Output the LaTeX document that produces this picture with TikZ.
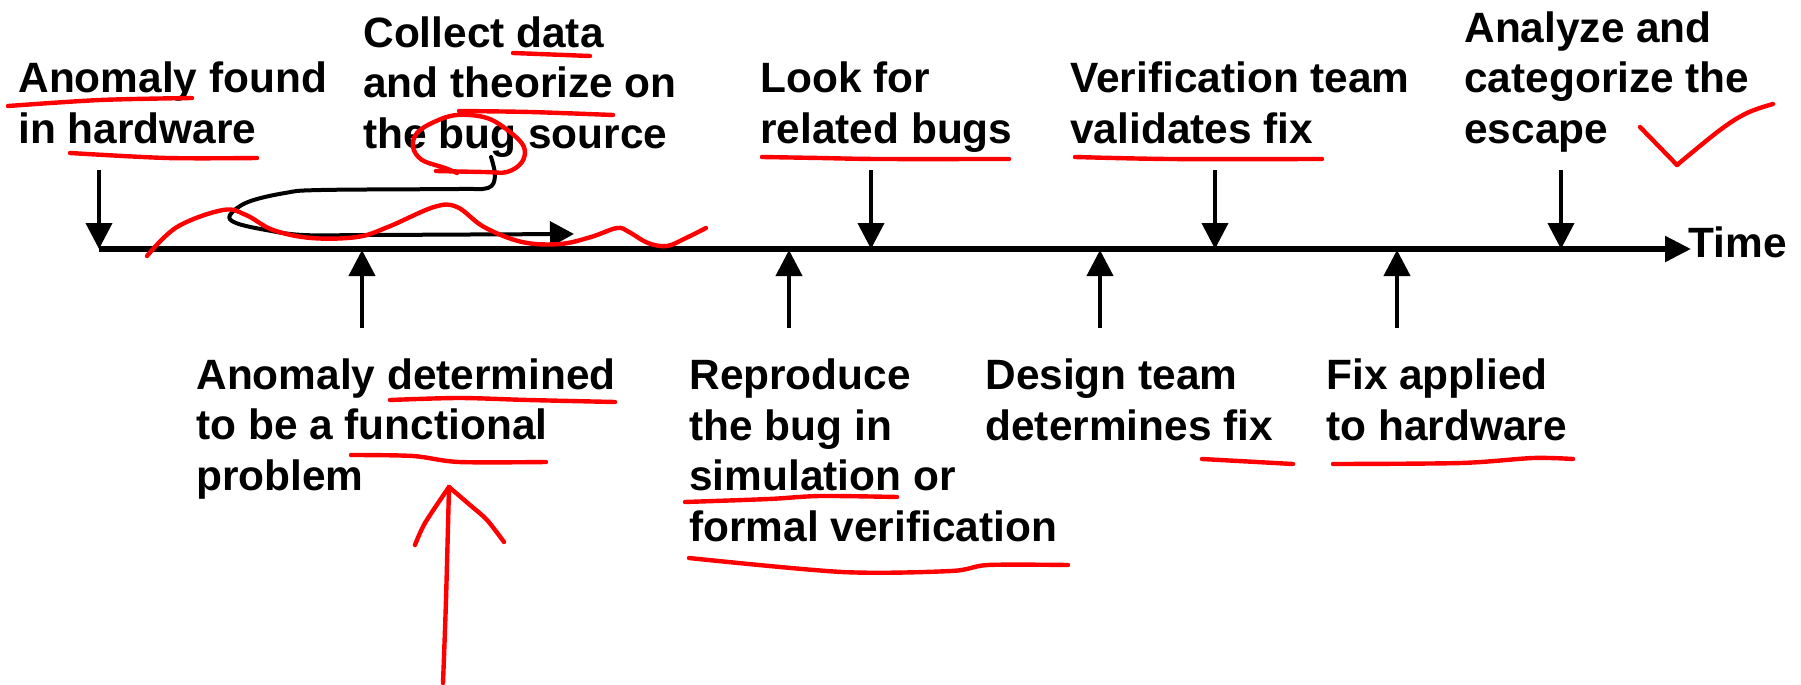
\documentclass[tikz,border=0pt]{standalone}
\usepackage{fontspec}
\setmainfont{Liberation Sans}
\usetikzlibrary{arrows.meta}
\begin{document}
\begin{tikzpicture}[x=0.5pt,y=-0.5pt,
  % multi-line labels are anchored at the baseline of their last line
  lbl/.style={anchor=base west, inner sep=0pt, align=left,
    font=\fontsize{21.2}{25.2}\selectfont\bfseries},
  tick/.style={line width=2pt, -{Triangle[length=13pt,width=13pt]}},
  axis/.style={line width=2.7pt, -{Triangle[length=13pt,width=12.5pt]}},
  pen/.style={red, line width=2.2pt, line cap=round, line join=round},
  ink/.style={black, line width=2pt, line cap=round, line join=round}]
\useasboundingbox (0,0) rectangle (1801,685);

% time axis
\coordinate (t0) at (99,249);
\coordinate (t1) at (1691,249);
\draw[axis] (t0) -- (t1);
\node[lbl] (time) at (1688,257) {Time};

% events above the axis
\node[lbl] (found)   at (18,143)   {Anomaly found\\in hardware};
\node[lbl] (collect) at (363,148)  {Collect data\\and theorize on\\the bug source};
\node[lbl] (look)    at (760,143)  {Look for\\related bugs};
\node[lbl] (valid)   at (1070,143) {Verification team\\validates fix};
\node[lbl] (analyze) at (1464,143) {Analyze and\\categorize the\\escape};

% events below the axis
\node[lbl] (funct)   at (196,490)  {Anomaly determined\\to be a functional\\problem};
\node[lbl] (repro)   at (689,541)  {Reproduce\\the bug in\\simulation or\\formal verification};
\node[lbl] (design)  at (985,440)  {Design team\\determines fix};
\node[lbl] (apply)   at (1326,440) {Fix applied\\to hardware};

% markers pointing down onto the axis
\foreach \n/\x in {a/99, b/871, c/1215, d/1561} {
  \coordinate (dn\n) at (\x,170);
  \coordinate (dt\n) at (\x,249);
  \draw[tick] (dn\n) -- (dt\n);
}
% markers pointing up onto the axis
\foreach \n/\x in {a/362, b/789, c/1100, d/1397} {
  \coordinate (up\n) at (\x,328);
  \coordinate (ut\n) at (\x,250);
  \draw[tick] (up\n) -- (ut\n);
}

% hand-drawn black loop arrow
\draw[ink, -{Triangle[length=12pt,width=12.5pt]}] plot[smooth, tension=0.6] coordinates {
  (491,157) (495,176) (488,188) (459,189) (321,190) (285,193) (248,202)
  (230,215) (236,223) (266,230) (303,235) (367,235) (470,234.5) (574,234)};

% red pen marks: underlines
\draw[pen] plot[smooth] coordinates {(8,106) (100,100) (192,98)};
\draw[pen] plot[smooth] coordinates {(70,153) (167,158) (257,158)};
\draw[pen] plot[smooth] coordinates {(513,53) (590,56)};
\draw[pen] plot[smooth] coordinates {(459,111) (530,112) (613,115)};
\draw[pen] plot[smooth] coordinates {(762,157) (820,158) (878,159) (1009,159)};
\draw[pen] plot[smooth] coordinates {(1075,157) (1169,159) (1322,159)};
\draw[pen] plot[smooth] coordinates {(390,400) (459,398) (528,400) (615,402)};
\draw[pen] plot[smooth] coordinates {(351,455) (413,456) (459,462) (546,462)};
\draw[pen] plot[smooth] coordinates {(685,502) (769,499) (820,496) (897,497)};
\draw[pen] plot[smooth] coordinates {(689,558) (842,572) (951,571) (988,565) (1068,565)};
\draw[pen] plot[smooth] coordinates {(1202,459) (1293,464)};
\draw[pen] plot[smooth] coordinates {(1333,464) (1461,463) (1533,458) (1573,459)};

% red pen: circle round "bug"
\draw[pen] plot[smooth, tension=0.6] coordinates {
  (436,171) (484,172) (507,172) (522,162) (524,147) (510,132) (487,118)
  (457,115) (434,122) (417,133) (413,147) (422,160) (445,168) (457,173)};

% red pen: wavy line along the axis
\draw[pen] plot[smooth, tension=0.6] coordinates {
  (147,256) (177,227) (223,210) (246,215) (273,230) (311,238) (357,237)
  (388,227) (434,207) (457,207) (484,227) (522,242) (560,244) (591,237)
  (617,228) (629,232) (648,243) (667,246) (686,238) (706,228)};

% red pen: tick mark
\draw[pen] plot[smooth, tension=0.3] coordinates {(1640,127) (1677,165)};
\draw[pen] plot[smooth, tension=0.6] coordinates {(1677,165) (1720,130) (1747,113) (1773,104)};

% red pen: arrow up to the functional-problem note
\draw[pen] plot[smooth] coordinates {(443,683) (446,600) (449,487)};
\draw[pen] plot[smooth] coordinates {(415,545) (425,523) (449,487)};
\draw[pen] plot[smooth] coordinates {(449,487) (470,505) (487,520) (504,542)};
\end{tikzpicture}
\end{document}
